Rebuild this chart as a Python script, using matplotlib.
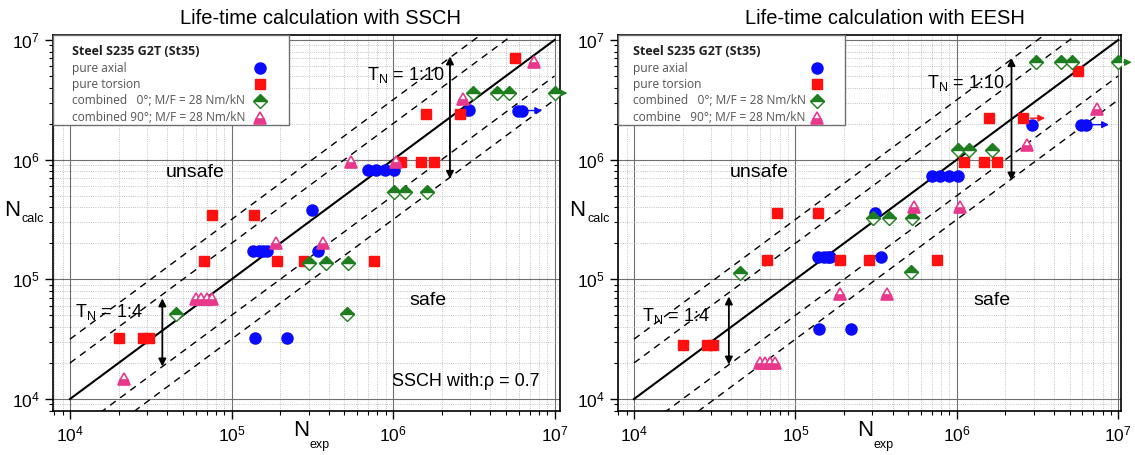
import matplotlib
matplotlib.use("Agg")
import matplotlib.pyplot as plt
from matplotlib.patches import Rectangle
from matplotlib.ticker import LogLocator, NullFormatter

plt.rcParams['font.family'] = ['Liberation Sans', 'DejaVu Sans']
plt.rcParams['mathtext.fontset'] = 'custom'
plt.rcParams['mathtext.rm'] = 'Liberation Sans'
plt.rcParams['mathtext.it'] = 'Liberation Sans'

# ---- SSCH (left panel) ----
ssch_axial_exp = [3.14e5, 7.0e5, 7.8e5, 8.9e5, 1.02e6, 2.94e6, 5.9e6, 6.27e6,
                  1.35e5, 1.47e5, 1.57e5, 1.66e5, 3.42e5, 1.4e5, 2.22e5]
ssch_axial_calc = [3.83e5, 8.15e5, 8.15e5, 8.15e5, 8.15e5, 2.6e6, 2.57e6, 2.57e6,
                   1.72e5, 1.72e5, 1.72e5, 1.72e5, 1.72e5, 3.22e4, 3.22e4]
ssch_tors_exp = [7.6e4, 1.37e5, 5.7e6, 1.6e6, 2.6e6, 1.12e6, 1.48e6, 1.78e6,
                 6.73e4, 1.92e5, 2.81e5, 7.6e5, 2.01e4, 2.85e4, 3.1e4]
ssch_tors_calc = [3.48e5, 3.48e5, 7.1e6, 2.42e6, 2.42e6, 9.5e5, 9.5e5, 9.5e5,
                  1.42e5, 1.42e5, 1.42e5, 1.42e5, 3.22e4, 3.22e4, 3.22e4]
ssch_c0_exp = [3.14e6, 4.43e6, 5.25e6, 1.01e7, 1.02e6, 1.19e6, 1.63e6,
               3.03e5, 3.83e5, 5.28e5, 4.5e4, 5.17e5]
ssch_c0_calc = [3.6e6, 3.6e6, 3.6e6, 3.6e6, 5.34e5, 5.34e5, 5.34e5,
                1.38e5, 1.38e5, 1.38e5, 5.1e4, 5.1e4]
ssch_c90_exp = [7.46e6, 2.72e6, 5.47e5, 1.04e6, 1.88e5, 3.7e5,
                6.0e4, 6.5e4, 7.0e4, 7.6e4, 2.16e4]
ssch_c90_calc = [6.5e6, 3.2e6, 9.5e5, 9.5e5, 2.02e5, 2.02e5,
                 6.8e4, 6.8e4, 6.8e4, 6.8e4, 1.47e4]
# run-out arrows (green, red, blue): start x, end x, y
ssch_run_x0 = [1.05e7, 2.75e6, 6.4e6]
ssch_run_x1 = [1.25e7, 3.3e6, 8.7e6]
ssch_run_y = [3.6e6, 2.42e6, 2.57e6]

# ---- EESH (right panel) ----
eesh_axial_exp = [7.0e5, 7.9e5, 8.96e5, 1.02e6, 2.93e6, 5.86e6, 6.27e6, 3.1e5,
                  1.37e5, 1.5e5, 1.58e5, 1.64e5, 3.38e5, 1.4e5, 2.21e5]
eesh_axial_calc = [7.36e5, 7.36e5, 7.36e5, 7.36e5, 1.96e6, 1.96e6, 1.96e6, 3.55e5,
                   1.55e5, 1.55e5, 1.55e5, 1.55e5, 1.55e5, 3.88e4, 3.88e4]
eesh_tors_exp = [7.66e4, 1.37e5, 5.64e6, 1.59e6, 2.58e6, 1.1e6, 1.48e6, 1.78e6,
                 6.64e4, 1.9e5, 2.85e5, 7.55e5, 2.0e4, 2.82e4, 3.1e4]
eesh_tors_calc = [3.6e5, 3.6e5, 5.55e6, 2.22e6, 2.22e6, 9.5e5, 9.5e5, 9.5e5,
                  1.45e5, 1.45e5, 1.45e5, 1.45e5, 2.82e4, 2.82e4, 2.82e4]
eesh_c0_exp = [3.11e6, 4.4e6, 5.2e6, 1.0e7, 1.02e6, 1.19e6, 1.64e6,
               3.03e5, 3.8e5, 5.24e5, 4.53e4, 5.17e5]
eesh_c0_calc = [6.5e6, 6.5e6, 6.5e6, 6.5e6, 1.21e6, 1.21e6, 1.21e6,
                3.27e5, 3.27e5, 3.27e5, 1.14e5, 1.15e5]
eesh_c90_exp = [7.4e6, 2.73e6, 5.42e5, 1.04e6, 1.89e5, 3.7e5,
                6.0e4, 6.5e4, 7.0e4, 7.5e4]
eesh_c90_calc = [2.64e6, 1.33e6, 4.03e5, 4.03e5, 7.5e4, 7.5e4,
                 2.0e4, 2.0e4, 2.0e4, 2.0e4]
eesh_run_x0 = [1.04e7, 2.75e6, 6.4e6]
eesh_run_x1 = [1.26e7, 3.66e6, 9.1e6]
eesh_run_y = [6.5e6, 2.22e6, 1.96e6]

legend_title = 'Steel S235 G2T (St35)'
ssch_labels = ['pure axial', 'pure torsion',
               'combined   0\u00b0; M/F = 28 Nm/kN',
               'combined 90\u00b0; M/F = 28 Nm/kN']
eesh_labels = ['pure axial', 'pure torsion',
               'combined   0\u00b0; M/F = 28 Nm/kN',
               'combine   90\u00b0; M/F = 28 Nm/kN']

# scatter band factors
band_10 = 10 ** 0.5
band_4 = 2.0

BLUE = '#0a0aff'
RED = '#ff1010'
GREEN = '#1e7d1e'
PINK = '#e8388c'

mk_axial = dict(marker='o', ms=8, color=BLUE, mec=BLUE, ls='none')
mk_tors = dict(marker='s', ms=7, color=RED, mec=RED, ls='none')
mk_c0 = dict(marker='D', ms=7.3, color=GREEN, mec=GREEN, mfc=GREEN,
             fillstyle='top', mfcalt='white', mew=1.0, ls='none')
mk_c90 = dict(marker='^', ms=9, color=PINK, mec=PINK, mfc=PINK,
              fillstyle='bottom', mfcalt='white', mew=1.2, ls='none')
markers = [mk_axial, mk_tors, mk_c0, mk_c90]


def panel(ax, data, run, xlim, labels, box_w, mark_x, text_x):
    ax.set_xscale('log')
    ax.set_yscale('log')

    ax.grid(True, which='major', color='#707070', lw=0.8, ls='-')
    ax.grid(True, which='minor', color='#b0b0b0', lw=0.6, ls=':')
    ax.xaxis.set_minor_locator(LogLocator(base=10, subs=range(2, 10), numticks=20))
    ax.yaxis.set_minor_locator(LogLocator(base=10, subs=range(2, 10), numticks=20))
    ax.xaxis.set_minor_formatter(NullFormatter())
    ax.yaxis.set_minor_formatter(NullFormatter())
    ax.tick_params(which='major', direction='out', length=6, width=1, labelsize=12.5)
    ax.tick_params(which='minor', direction='out', length=3, width=0.8)
    for s in ax.spines.values():
        s.set_linewidth(1.2)

    # 1:1 line and scatter bands
    xs = [1e4, 1e7]
    ax.plot(xs, xs, color='black', lw=1.5, zorder=3)
    for f in [band_10, band_4, 1 / band_4, 1 / band_10]:
        ax.plot(xs, [x * f for x in xs], color='black', lw=1.0,
                ls=(0, (5, 4)), zorder=3)

    for (x, y), mk in zip(zip(data[0::2], data[1::2]), markers):
        ax.plot(x, y, zorder=5, **mk)

    # run-out arrows
    rx0, rx1, ry = run
    for x0, x1, y, c in zip(rx0, rx1, ry, [GREEN, RED, BLUE]):
        ax.annotate('', xy=(x1, y), xytext=(x0, y), annotation_clip=False,
                    arrowprops=dict(arrowstyle='-|>', color=c, lw=1.0,
                                    mutation_scale=10), zorder=4)

    # legend box drawn in axes coordinates
    box_h = 0.239
    ax.add_patch(Rectangle((0, 1 - box_h), box_w, box_h, transform=ax.transAxes,
                           facecolor='white', edgecolor='#707070', lw=1.0,
                           zorder=8, clip_on=False))
    ax.text(text_x, 0.9556, legend_title, transform=ax.transAxes,
            family='Open Sans', weight='bold', size=9, color='#202020',
            va='center', ha='left', zorder=9)
    for yy, lab, mk in zip([0.9114, 0.8689, 0.8245, 0.7801], labels, markers):
        ax.text(text_x, yy, lab, transform=ax.transAxes, family='Open Sans',
                size=8.6, color='#555555', va='center', ha='left', zorder=9)
        ax.plot([mark_x], [yy], transform=ax.transAxes, clip_on=False,
                zorder=9, **mk)

    ax.set_xlim(*xlim)
    ax.set_ylim(7.94e3, 1.1e7)
    return ax


fig = plt.figure(figsize=(11.35, 4.55), dpi=100)
ax1 = fig.add_axes([0.0467, 0.0967, 0.4467, 0.8264])
ax2 = fig.add_axes([0.5445, 0.0967, 0.4432, 0.8264])

panel(ax1, (ssch_axial_exp, ssch_axial_calc, ssch_tors_exp, ssch_tors_calc,
            ssch_c0_exp, ssch_c0_calc, ssch_c90_exp, ssch_c90_calc),
      (ssch_run_x0, ssch_run_x1, ssch_run_y), (7.85e3, 1.08e7),
      ssch_labels, 0.4655, 0.408, 0.0375)
panel(ax2, (eesh_axial_exp, eesh_axial_calc, eesh_tors_exp, eesh_tors_calc,
            eesh_c0_exp, eesh_c0_calc, eesh_c90_exp, eesh_c90_calc),
      (eesh_run_x0, eesh_run_x1, eesh_run_y), (7.96e3, 1.04e7),
      eesh_labels, 0.451, 0.395, 0.029)

# scatter band arrows and labels
arrow_kw = dict(arrowstyle='<|-|>', color='black', lw=1.3, mutation_scale=11)
for ax, x10, x4 in [(ax1, 2.25e6, 3.73e4), (ax2, 2.18e6, 3.87e4)]:
    ax.annotate('', xy=(x10, x10 * band_10 * 1.08), xytext=(x10, x10 / band_10 * 0.92),
                arrowprops=arrow_kw, zorder=6)
    ax.annotate('', xy=(x4, x4 * band_4 * 0.98), xytext=(x4, x4 / band_4 * 0.95),
                arrowprops=arrow_kw, zorder=6)
    ax.text(5.95e4, 7.85e5, 'unsafe', fontsize=14, ha='center', va='center')
    ax.text(1.65e6, 6.6e4, 'safe', fontsize=14, ha='center', va='center')

tn10 = r'T$_{\mathregular{N}}$ = 1:10'
tn4 = r'T$_{\mathregular{N}}$ = 1:4'
ax1.text(6.9e5, 5.1e6, tn10, fontsize=13, ha='left', va='center', zorder=6)
ax2.text(6.5e5, 4.4e6, tn10, fontsize=13, ha='left', va='center', zorder=6)
ax1.text(1.08e4, 5.3e4, tn4, fontsize=13, ha='left', va='center', zorder=6)
ax2.text(1.12e4, 4.9e4, tn4, fontsize=13, ha='left', va='center', zorder=6)
ax1.text(9.8e5, 1.39e4, 'SSCH with:\u03c1 = 0.7', fontsize=13,
         ha='left', va='center')

# titles and axis labels placed in figure pixels
W, H = 1135.0, 455.0
fig.text(320 / W, 1 - 18 / H, 'Life-time calculation with SSCH',
         fontsize=14.5, ha='center', va='center')
fig.text(885 / W, 1 - 18 / H, 'Life-time calculation with EESH',
         fontsize=14.5, ha='center', va='center')
for x0 in [4, 569]:
    fig.text(x0 / W, 1 - 211 / H, 'N', fontsize=16, ha='left', va='center')
    fig.text((x0 + 18) / W, 1 - 219 / H, 'calc', fontsize=9, ha='left', va='center')
for x0 in [293, 857]:
    fig.text(x0 / W, 1 - 430 / H, 'N', fontsize=16, ha='left', va='center')
    fig.text((x0 + 17) / W, 1 - 445 / H, 'exp', fontsize=9, ha='left', va='center')

fig.savefig('out.png', dpi=100)
